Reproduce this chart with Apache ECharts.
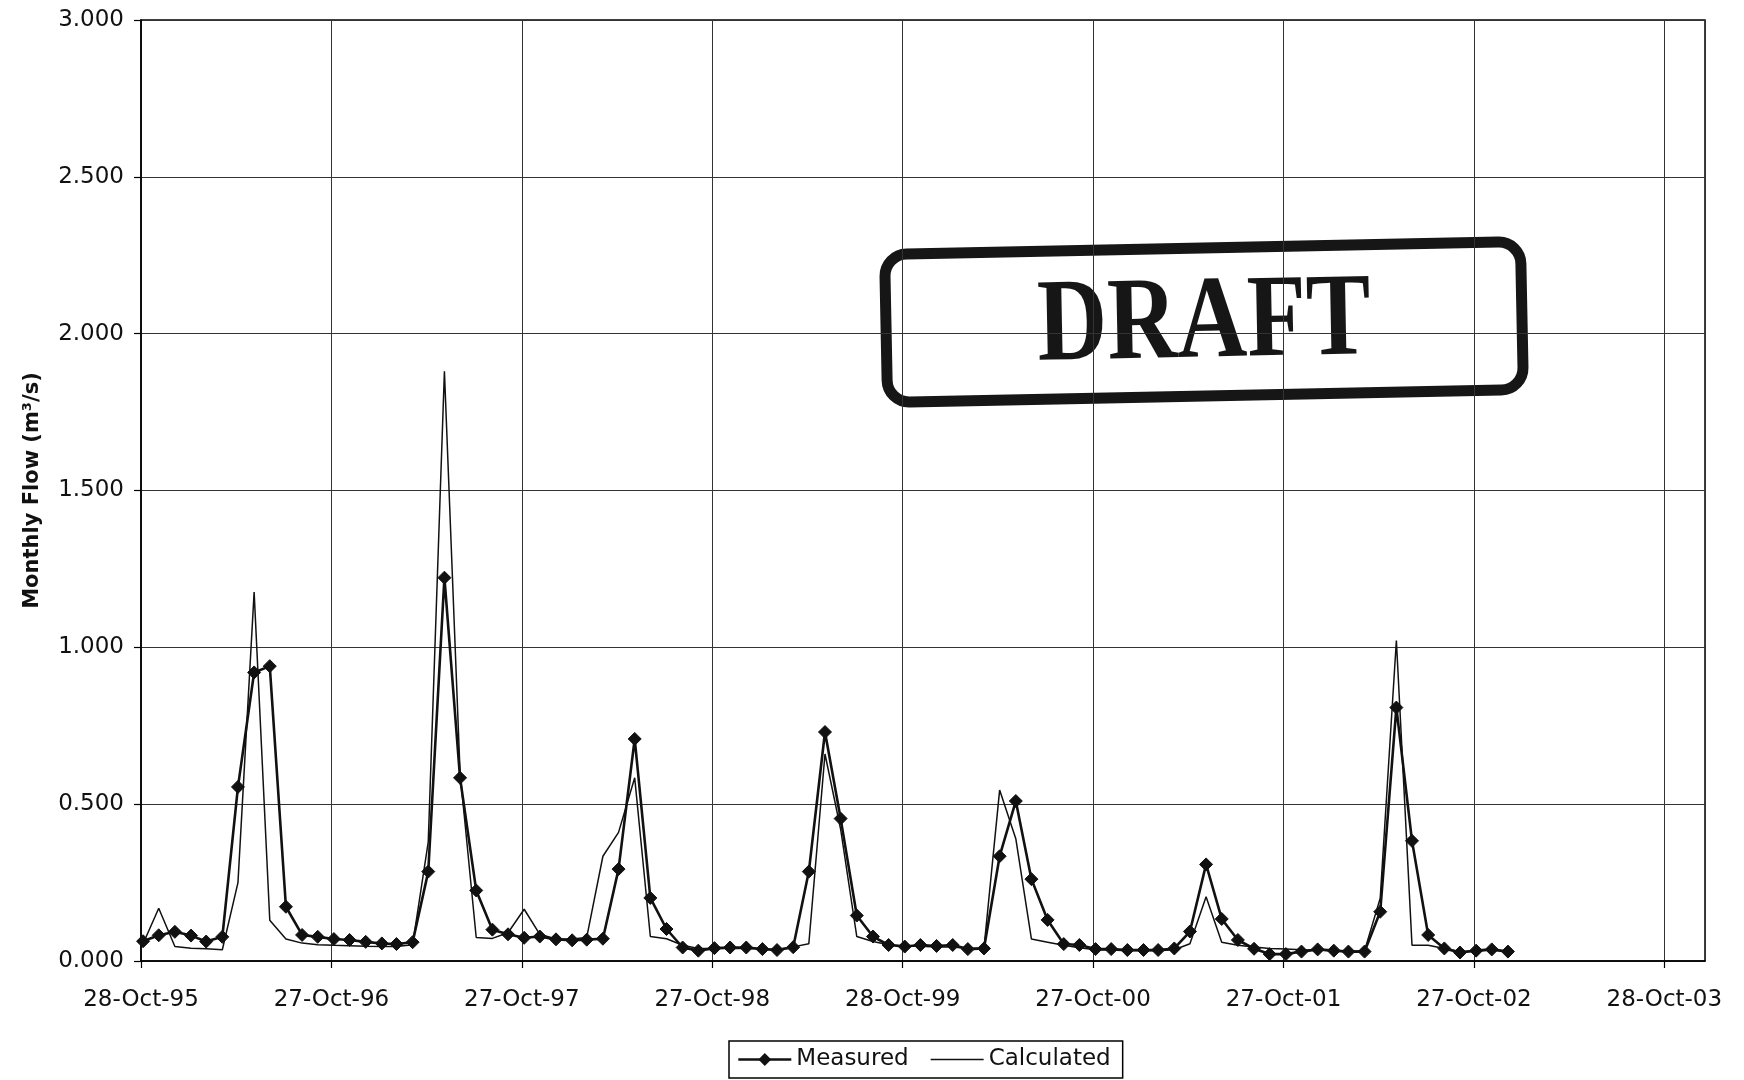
<!DOCTYPE html>
<html>
<head>
<meta charset="utf-8">
<script src="https://cdn.jsdelivr.net/npm/echarts@6/dist/echarts.min.js"></script>
<style>
html,body{margin:0;padding:0;background:#ffffff;}
#chart{width:1744px;height:1080px;}
</style>
</head>
<body>
<div id="chart"></div>
<script>
// ---- data ----
const axisStartDate = [1995, 10, 28];   // axis minimum: 28-Oct-95
const axisEndDays = 3000;               // axis maximum, days after the minimum
const tickStepDays = 365.25;            // Excel major unit
const firstRecord = [1995, 11];         // first monthly record: Nov 1995

const xTickLabels = ['28-Oct-95', '27-Oct-96', '27-Oct-97', '27-Oct-98', '28-Oct-99',
                     '27-Oct-00', '27-Oct-01', '27-Oct-02', '28-Oct-03'];
const yTickLabels = ['0.000', '0.500', '1.000', '1.500', '2.000', '2.500', '3.000'];

const measured = [
  0.063, 0.082, 0.093, 0.081, 0.062, 0.077, 0.555, 0.920, 0.940, 0.173,
  0.083, 0.077, 0.070, 0.067, 0.061, 0.056, 0.054, 0.060, 0.285, 1.222,
  0.584, 0.225, 0.100, 0.085, 0.074, 0.078, 0.069, 0.066, 0.068, 0.071,
  0.293, 0.708, 0.201, 0.102, 0.043, 0.033, 0.041, 0.043, 0.043, 0.038,
  0.035, 0.044, 0.285, 0.730, 0.454, 0.145, 0.078, 0.051, 0.046, 0.051,
  0.048, 0.051, 0.038, 0.040, 0.334, 0.510, 0.261, 0.131, 0.054, 0.051,
  0.038, 0.038, 0.035, 0.035, 0.035, 0.040, 0.094, 0.308, 0.134, 0.067,
  0.039, 0.022, 0.022, 0.030, 0.037, 0.033, 0.030, 0.030, 0.157, 0.808,
  0.383, 0.083, 0.040, 0.027, 0.033, 0.037, 0.030
];

const calculated = [
  0.055, 0.168, 0.046, 0.041, 0.039, 0.036, 0.250, 1.176, 0.130, 0.070,
  0.057, 0.052, 0.050, 0.049, 0.047, 0.046, 0.046, 0.052, 0.380, 1.880,
  0.600, 0.075, 0.072, 0.090, 0.165, 0.085, 0.070, 0.070, 0.075, 0.334,
  0.410, 0.584, 0.078, 0.071, 0.050, 0.040, 0.040, 0.040, 0.040, 0.038,
  0.037, 0.045, 0.055, 0.660, 0.420, 0.078, 0.062, 0.052, 0.048, 0.047,
  0.045, 0.045, 0.040, 0.042, 0.545, 0.390, 0.070, 0.060, 0.050, 0.042,
  0.036, 0.035, 0.033, 0.033, 0.033, 0.036, 0.055, 0.205, 0.060, 0.050,
  0.045, 0.040, 0.038, 0.036, 0.035, 0.033, 0.032, 0.033, 0.200, 1.022,
  0.050, 0.050, 0.040, 0.030, 0.032, 0.035, 0.030
];

const seriesNames = ['Measured', 'Calculated'];
const yAxisTitle = 'Monthly Flow (m\u00B3/s)';
const stampText = 'DRAFT';

// ---- helpers ----
const DAY_MS = 86400000;
const axisStartMs = Date.UTC(axisStartDate[0], axisStartDate[1] - 1, axisStartDate[2]);
function recordDay(i) {
  const m = firstRecord[1] - 1 + i;
  const ms = Date.UTC(firstRecord[0] + Math.floor(m / 12), m % 12, 1);
  return (ms - axisStartMs) / DAY_MS;
}
const measuredPts = measured.map((v, i) => [recordDay(i), v]);
const calculatedPts = calculated.map((v, i) => [recordDay(i), v]);

const FONT = 'DejaVu Sans';
const INK = '#111111';

const chart = echarts.init(document.getElementById('chart'), null, {renderer: 'canvas'});
chart.setOption({
  animation: false,
  backgroundColor: '#ffffff',
  grid: {
    left: 141, right: 39, top: 20, bottom: 119,
    show: true, borderColor: '#000000', borderWidth: 1.5, backgroundColor: 'transparent'
  },
  xAxis: {
    type: 'value',
    min: 0, max: axisEndDays, interval: tickStepDays,
    axisLine: {show: true, onZero: false, lineStyle: {color: '#000', width: 1.5}},
    axisTick: {show: true, inside: false, length: 7, lineStyle: {color: '#000', width: 1.2}},
    splitLine: {show: true, lineStyle: {color: '#333333', width: 1}},
    axisLabel: {
      show: true, margin: 28, showMaxLabel: false, hideOverlap: false,
      color: INK, fontFamily: FONT, fontSize: 23,
      formatter: function (v) {
        const k = Math.round(v / tickStepDays);
        return xTickLabels[k] !== undefined ? xTickLabels[k] : '';
      }
    }
  },
  yAxis: {
    type: 'value',
    min: 0, max: 3, interval: 0.5,
    name: yAxisTitle, nameLocation: 'middle', nameRotate: 90, nameGap: 98,
    nameTextStyle: {color: INK, fontFamily: FONT, fontSize: 21, fontWeight: 'bold'},
    axisLine: {show: true, lineStyle: {color: '#000', width: 1.5}},
    axisTick: {show: true, inside: false, length: 7, lineStyle: {color: '#000', width: 1.2}},
    splitLine: {show: true, lineStyle: {color: '#333333', width: 1}},
    axisLabel: {
      show: true, margin: 17, hideOverlap: false,
      color: INK, fontFamily: FONT, fontSize: 23,
      formatter: function (v) {
        const k = Math.round(v / 0.5);
        return yTickLabels[k] !== undefined ? yTickLabels[k] : '';
      }
    }
  },
  legend: {
    show: true,
    left: 729, top: 1041,
    orient: 'horizontal',
    padding: [7, 12, 7, 8],
    itemGap: 22,
    itemWidth: 53, itemHeight: 16,
    borderColor: '#000', borderWidth: 1.5, borderRadius: 0,
    backgroundColor: '#fff',
    textStyle: {color: INK, fontFamily: FONT, fontSize: 23},
    data: [
      {
        name: seriesNames[0],
        itemStyle: {color: INK},
        lineStyle: {color: INK, width: 2.6}
      },
      {
        name: seriesNames[1],
        icon: 'path://M0,0H53V1.5H0Z',
        itemStyle: {color: INK, borderWidth: 0}
      }
    ]
  },
  series: [
    {
      name: seriesNames[0],
      type: 'line',
      data: measuredPts,
      symbol: 'diamond', symbolSize: 13, showSymbol: true,
      itemStyle: {color: INK, borderColor: INK},
      lineStyle: {color: INK, width: 2.6},
      z: 3
    },
    {
      name: seriesNames[1],
      type: 'line',
      data: calculatedPts,
      symbol: 'none', showSymbol: false,
      itemStyle: {color: INK},
      lineStyle: {color: INK, width: 1.5},
      z: 4
    }
  ],
  graphic: [
    {
      type: 'group',
      x: 1204, y: 322,
      rotation: 0.02,
      z: 100,
      children: [
        {
          type: 'rect',
          shape: {x: -318, y: -74, width: 636, height: 148, r: 22},
          style: {fill: 'rgba(255,255,255,0)', stroke: '#161616', lineWidth: 11}
        },
        {
          type: 'text',
          x: 0, y: 4,
          scaleX: 0.82,
          style: {
            text: stampText,
            font: 'bold 118px "Liberation Serif"',
            fill: '#161616',
            align: 'center', verticalAlign: 'middle',
            textAlign: 'center', textVerticalAlign: 'middle'
          }
        }
      ]
    }
  ]
});
</script>
</body>
</html>
